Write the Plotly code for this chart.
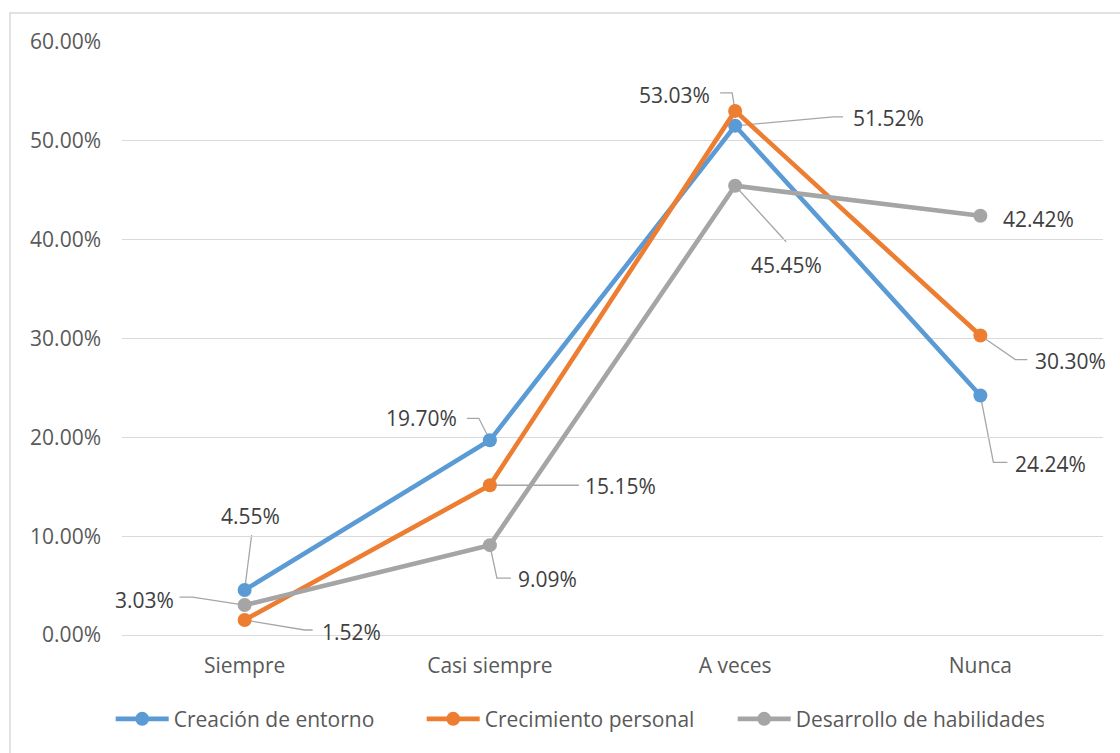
import plotly.graph_objects as go

categories = ["Siempre", "Casi siempre", "A veces", "Nunca"]
creacion = [0.0455, 0.1970, 0.5152, 0.2424]
crecimiento = [0.0152, 0.1515, 0.5303, 0.3030]
desarrollo = [0.0303, 0.0909, 0.4545, 0.4242]
series_names = ["Creación de entorno", "Crecimiento personal", "Desarrollo de habilidades"]
colors = ["#5B9BD5", "#ED7D31", "#A5A5A5"]

# label offsets in pixels (dx, dy up-positive) and leader paths
label_off = [
    [(6, 74), (-68, 22), (153, 8), (70, -69)],
    [(107, -12), (131, -1), (-61, 16), (90, -25)],
    [(-100, 5), (58, -34), (51, -79), (58, -3)],
]
leaders = [
    [[(0, 0), (7, 55)], [(0, 0), (-11, 22), (-23, 22)], [(0, 0), (98, 9), (108, 9)], [(0, 0), (13, -67), (27, -67)]],
    [[(0, 0), (60, -10), (68, -10)], [(0, 0), (89, 0)], [(0, 0), (-3, 18), (-15, 18)], [(0, 0), (35, -24), (47, -24)]],
    [[(0, 0), (-52, 8), (-65, 8)], [(0, 0), (7, -33), (21, -33)], [(0, 0), (51, -56)], None],
]

FONT = "Open Sans"
FS = 21
fig = go.Figure()
all_series = [creacion, crecimiento, desarrollo]
for name, vals, col in zip(series_names, all_series, colors):
    fig.add_trace(go.Scatter(
        x=categories, y=vals, name=name, mode="lines+markers",
        line=dict(color=col, width=4.6),
        marker=dict(color=col, size=14),
        hoverinfo="skip",
    ))

annotations = []
shapes = []
for si, vals in enumerate(all_series):
    for ci, v in enumerate(vals):
        dx, dy = label_off[si][ci]
        annotations.append(dict(
            x=categories[ci], y=v, xref="x", yref="y",
            text=f"{v*100:.2f}%", showarrow=False,
            xshift=dx, yshift=dy,
            font=dict(family=FONT, size=FS, color="#404040"),
        ))
        lp = leaders[si][ci]
        if lp:
            path = "M" + " L".join(f"{px},{py}" for px, py in lp)
            shapes.append(dict(
                type="path", xref="x", yref="y",
                xsizemode="pixel", ysizemode="pixel",
                xanchor=categories[ci], yanchor=v,
                path=path, line=dict(color="#A6A6A6", width=1.3),
                layer="below",
            ))

# chart area border
shapes.append(dict(type="rect", xref="paper", yref="paper",
                   x0=-0.1142, x1=1.05, y0=-0.25, y1=1.049,
                   line=dict(color="#D9D9D9", width=1.5), layer="below"))

fig.update_layout(
    width=1120, height=753,
    margin=dict(l=122, r=17, t=42, b=118),
    paper_bgcolor="white", plot_bgcolor="white",
    font=dict(family=FONT, size=FS, color="#595959"),
    showlegend=True,
    legend=dict(orientation="h", x=0.464, xanchor="center", y=-0.142, yanchor="middle",
                font=dict(family=FONT, size=FS, color="#595959"),
                itemwidth=53, entrywidth=243, entrywidthmode="pixels",
                bgcolor="rgba(0,0,0,0)"),
    annotations=annotations,
    shapes=shapes,
    xaxis=dict(type="category", range=[-0.5, 3.5], showgrid=False, zeroline=False,
               showline=True, linecolor="#D9D9D9", linewidth=1.3,
               ticks="", ticklabelstandoff=12,
               tickfont=dict(family=FONT, size=FS, color="#595959")),
    yaxis=dict(range=[0, 0.6], dtick=0.1, tickformat=".2%", showgrid=True,
               gridcolor="#D9D9D9", gridwidth=1.3, zeroline=False, showline=False,
               ticks="", ticklabelstandoff=20,
               tickfont=dict(family=FONT, size=FS, color="#595959")),
)

fig.write_html("out.html")
